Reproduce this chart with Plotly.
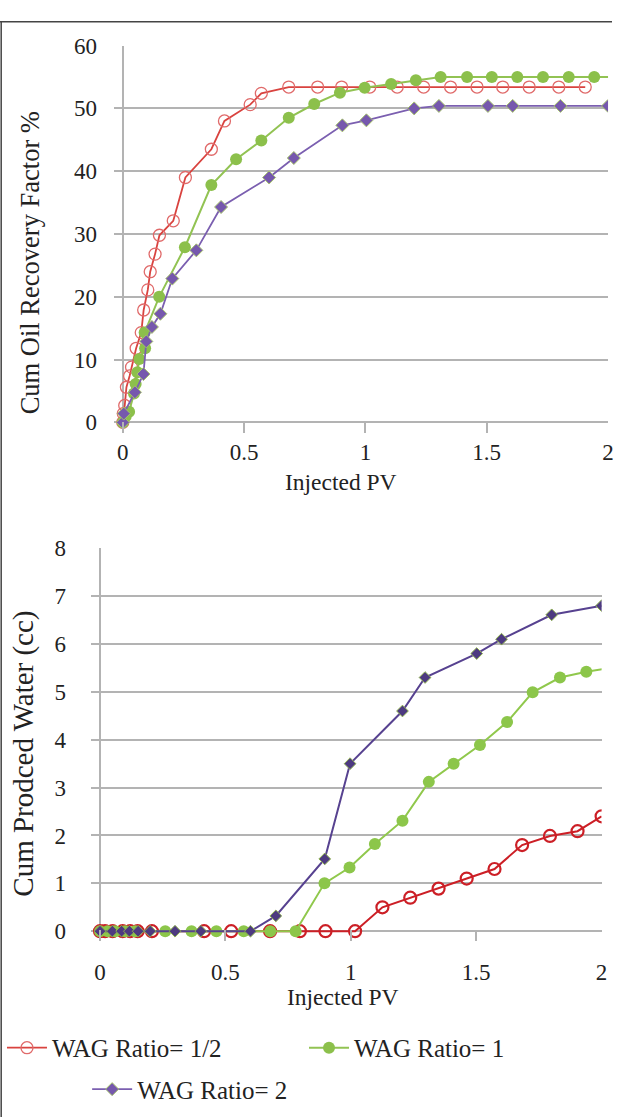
import plotly.graph_objects as go

# ---------------- data: top chart (Cum Oil Recovery Factor %) ----------------
top_x_half = [0, 0.002, 0.008, 0.015, 0.028, 0.036, 0.055, 0.076, 0.086, 0.103, 0.113, 0.133,
              0.151, 0.208, 0.258, 0.365, 0.419, 0.525, 0.571, 0.684, 0.803, 0.902, 1.018,
              1.131, 1.24, 1.351, 1.46, 1.566, 1.675, 1.797, 1.906]
top_y_half = [0, 1.4, 2.7, 5.6, 7.4, 8.8, 11.8, 14.3, 17.9, 21.1, 24.0, 26.8, 29.8, 32.1,
              39.0, 43.5, 48.0, 50.6, 52.4, 53.4, 53.4, 53.4, 53.4, 53.4, 53.4, 53.4, 53.4,
              53.4, 53.4, 53.4, 53.4]

top_x_one = [0, 0.012, 0.026, 0.046, 0.053, 0.060, 0.068, 0.092, 0.090, 0.150, 0.256, 0.365,
             0.467, 0.571, 0.684, 0.789, 0.895, 0.997, 1.106, 1.208, 1.310, 1.419, 1.521,
             1.626, 1.732, 1.838, 1.943, 2.050]
top_y_one = [0, 1.0, 1.7, 4.6, 6.1, 8.0, 10.1, 11.8, 14.3, 20.0, 27.9, 37.8, 41.9, 44.9,
             48.5, 50.7, 52.5, 53.3, 53.9, 54.5, 55.0, 55.0, 55.0, 55.0, 55.0, 55.0, 55.0, 55.0]

top_x_two = [0, 0.004, 0.05, 0.085, 0.097, 0.12, 0.155, 0.204, 0.303, 0.405, 0.603, 0.705,
             0.905, 1.004, 1.201, 1.303, 1.505, 1.607, 1.804, 2.0]
top_y_two = [0, 1.4, 4.8, 7.7, 12.9, 15.2, 17.3, 22.9, 27.4, 34.3, 39.0, 42.1, 47.3, 48.1,
             50.0, 50.4, 50.4, 50.4, 50.4, 50.4]

# ---------------- data: bottom chart (Cum Produced Water, cc) ----------------
bot_x_half = [0, 0.02, 0.05, 0.09, 0.12, 0.15, 0.207, 0.415, 0.523, 0.678, 0.797, 0.899, 1.017,
              1.126, 1.237, 1.35, 1.462, 1.573, 1.683, 1.794, 1.904, 2.0]
bot_y_half = [0, 0, 0, 0, 0, 0, 0, 0, 0, 0, 0, 0, 0,
              0.5, 0.7, 0.89, 1.1, 1.3, 1.8, 1.99, 2.09, 2.4]

bot_x_one = [0, 0.03, 0.06, 0.1, 0.14, 0.26, 0.365, 0.464, 0.573, 0.679, 0.78,
             0.895, 0.995, 1.096, 1.206, 1.311, 1.41, 1.515, 1.623, 1.725, 1.834, 1.939, 2.05]
bot_y_one = [0, 0, 0, 0, 0, 0, 0, 0, 0, 0, 0,
             1.0, 1.33, 1.82, 2.31, 3.12, 3.5, 3.89, 4.37, 4.99, 5.3, 5.42, 5.51]

bot_x_two = [0, 0.049, 0.086, 0.117, 0.152, 0.2, 0.299, 0.402, 0.6,
             0.701, 0.896, 0.997, 1.206, 1.296, 1.502, 1.601, 1.801, 2.0]
bot_y_two = [0, 0, 0, 0, 0, 0, 0, 0, 0,
             0.32, 1.51, 3.5, 4.6, 5.3, 5.8, 6.1, 6.61, 6.8]

series_names = ["WAG Ratio= 1/2", "WAG Ratio= 1", "WAG Ratio= 2"]
x_tickvals = [0, 0.5, 1, 1.5, 2]
x_ticktext = ["0", "0.5", "1", "1.5", "2"]
top_y_ticks = [0, 10, 20, 30, 40, 50, 60]
bot_y_ticks = [0, 1, 2, 3, 4, 5, 6, 7, 8]

FONT = "Liberation Serif"
W, H = 618, 1120

fig = go.Figure()

# top chart
fig.add_trace(go.Scatter(x=top_x_half, y=top_y_half, mode="lines+markers", name=series_names[0],
                         xaxis="x", yaxis="y", legend="legend",
                         line=dict(color="#d9433f", width=1.8),
                         marker=dict(symbol="circle-open", size=12, color="#e06a6a",
                                     line=dict(width=1.3, color="#e06a6a"))))
fig.add_trace(go.Scatter(x=top_x_one, y=top_y_one, mode="lines+markers", name=series_names[1],
                         xaxis="x", yaxis="y", legend="legend2",
                         line=dict(color="#92c353", width=2),
                         marker=dict(symbol="circle", size=12, color="#8cc04b")))
fig.add_trace(go.Scatter(x=top_x_two, y=top_y_two, mode="lines+markers", name=series_names[2],
                         xaxis="x", yaxis="y", legend="legend3",
                         line=dict(color="#7b5fb0", width=1.8),
                         marker=dict(symbol="diamond", size=10, color="#7658ad",
                                     line=dict(width=1, color="#a6c46b"))))

# bottom chart
fig.add_trace(go.Scatter(x=bot_x_half, y=bot_y_half, mode="lines+markers", name=series_names[0],
                         xaxis="x2", yaxis="y2", showlegend=False,
                         line=dict(color="#cc1f26", width=2),
                         marker=dict(symbol="circle-open", size=12, color="#cc1f26",
                                     line=dict(width=2.2, color="#cc1f26"))))
fig.add_trace(go.Scatter(x=bot_x_one, y=bot_y_one, mode="lines+markers", name=series_names[1],
                         xaxis="x2", yaxis="y2", showlegend=False,
                         line=dict(color="#90c84c", width=2),
                         marker=dict(symbol="circle", size=12, color="#8cc64a")))
fig.add_trace(go.Scatter(x=bot_x_two, y=bot_y_two, mode="lines+markers", name=series_names[2],
                         xaxis="x2", yaxis="y2", showlegend=False,
                         line=dict(color="#574290", width=2),
                         marker=dict(symbol="diamond", size=9, color="#4d3a80",
                                     line=dict(width=1, color="#8db04e"))))

GRID = "#b3b3b3"
tickfont = dict(family=FONT, size=23, color="#222")

def xaxis_cfg(domain, rng, anchor, standoff):
    return dict(domain=domain, range=rng, anchor=anchor, tickvals=x_tickvals, ticktext=x_ticktext,
                showgrid=False, zeroline=True, zerolinecolor=GRID, zerolinewidth=1.6,
                ticks="inside", ticklen=11, tickwidth=1.6, tickcolor=GRID,
                showline=False, tickfont=tickfont, ticklabelstandoff=standoff, fixedrange=True)

def yaxis_cfg(domain, rng, anchor, tickvals, standoff):
    return dict(domain=domain, range=rng, anchor=anchor, tickvals=tickvals,
                showgrid=True, gridcolor=GRID, gridwidth=1.6, zeroline=False,
                ticks="", showline=False, tickfont=tickfont, ticklabelstandoff=standoff,
                fixedrange=True)

legend_font = dict(family=FONT, size=25, color="#222")

fig.update_layout(
    width=W, height=H, margin=dict(l=0, r=0, t=0, b=0),
    paper_bgcolor="white", plot_bgcolor="white",
    font=dict(family=FONT, color="#222"),
    xaxis=xaxis_cfg([115 / W, 614 / W], [-9 / 245, 2.0], "y", 3),
    yaxis=yaxis_cfg([(H - 427) / H, (H - 34) / H], [-11 / 6.36, 60.01], "x", top_y_ticks, 16),
    xaxis2=xaxis_cfg([92 / W, 607.5 / W], [-9 / 253, 2.0], "y2", 15),
    yaxis2=yaxis_cfg([(H - 942) / H, (H - 543.3) / H], [-10.3 / 48.55, 8.005], "x2", bot_y_ticks, 24),
    legend=dict(x=2 / W, y=1 - 1050 / H, xanchor="left", yanchor="middle", bgcolor="rgba(0,0,0,0)",
                font=legend_font, itemwidth=40),
    legend2=dict(x=307 / W, y=1 - 1050 / H, xanchor="left", yanchor="middle", bgcolor="rgba(0,0,0,0)",
                 font=legend_font, itemwidth=40),
    legend3=dict(x=88 / W, y=1 - 1092 / H, xanchor="left", yanchor="middle", bgcolor="rgba(0,0,0,0)",
                 font=legend_font, itemwidth=40),
    annotations=[
        dict(text="Cum Oil Recovery Factor %", x=30 / W, y=1 - 254 / H, xref="paper", yref="paper",
             textangle=-90, showarrow=False, xanchor="center", yanchor="middle",
             font=dict(family=FONT, size=26.5, color="#222")),
        dict(text="Injected PV", x=344 / W, y=1 - 476 / H, xref="paper", yref="paper",
             showarrow=False, xanchor="center", yanchor="middle",
             font=dict(family=FONT, size=23.5, color="#222")),
        dict(text="Cum Prodced Water (cc)", x=24 / W, y=1 - 752 / H, xref="paper", yref="paper",
             textangle=-90, showarrow=False, xanchor="center", yanchor="middle",
             font=dict(family=FONT, size=29, color="#222")),
        dict(text="Injected PV", x=346 / W, y=1 - 998 / H, xref="paper", yref="paper",
             showarrow=False, xanchor="center", yanchor="middle",
             font=dict(family=FONT, size=23.5, color="#222")),
    ],
    shapes=[
        dict(type="line", xref="paper", yref="paper", x0=1.2 / W, x1=1.2 / W, y0=0, y1=1 - 10 / H,
             line=dict(color="#444", width=1.5)),
        dict(type="line", xref="paper", yref="paper", x0=0, x1=1, y0=1 - 10 / H, y1=1 - 10 / H,
             line=dict(color="#444", width=1.5)),
    ],
)

fig.write_html("out.html")
